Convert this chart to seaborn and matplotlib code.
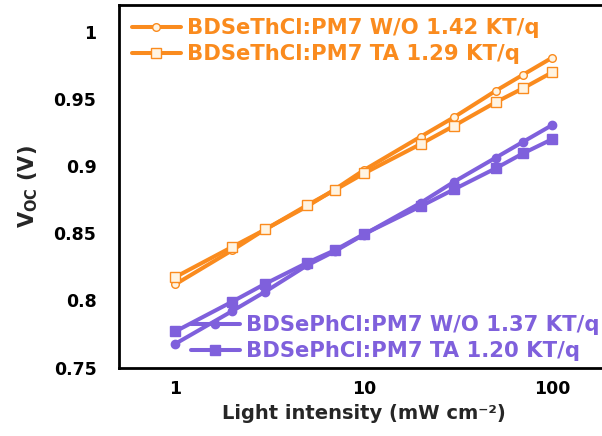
import matplotlib
matplotlib.use("Agg")
import matplotlib.pyplot as plt
from matplotlib.ticker import MultipleLocator, LogLocator, NullFormatter, FixedLocator, FixedFormatter
import seaborn as sns
import pandas as pd

# Light intensity (mW cm^-2)
intensity = [1, 2, 3, 5, 7, 10, 20, 30, 50, 70, 100]

# Open-circuit voltage (V) for each device
voc_thcl_wo = [0.812, 0.8373, 0.853, 0.870, 0.8826, 0.897, 0.9219, 0.9363, 0.956, 0.9681, 0.9808]
voc_thcl_ta = [0.8174, 0.8398, 0.8528, 0.8709, 0.8821, 0.8945, 0.9164, 0.9299, 0.9475, 0.958, 0.9699]
voc_phcl_wo = [0.7677, 0.792, 0.8065, 0.8261, 0.8365, 0.849, 0.8726, 0.8882, 0.9062, 0.9181, 0.9306]
voc_phcl_ta = [0.7769, 0.7990, 0.8124, 0.8280, 0.8373, 0.8493, 0.8700, 0.8826, 0.8983, 0.9095, 0.9201]

labels = [
    "BDSeThCl:PM7 W/O 1.42 KT/q",
    "BDSeThCl:PM7 TA 1.29 KT/q",
    "BDSePhCl:PM7 W/O 1.37 KT/q",
    "BDSePhCl:PM7 TA 1.20 KT/q",
]

ytick_vals = [0.75, 0.8, 0.85, 0.9, 0.95, 1.0]
ytick_text = ["0.75", "0.8", "0.85", "0.9", "0.95", "1"]
xtick_vals = [1, 10, 100]
xtick_text = ["1", "10", "100"]

orange = "#FA8B1E"
purple = "#7F60DC"
cream = "#FFF4E2"

sns.set_style("white")
plt.rcParams["font.family"] = ["DejaVu Sans"]
plt.rcParams["font.weight"] = "bold"

fig = plt.figure(figsize=(6.02, 4.36), dpi=100)
W, H = 602, 436
x0, x1 = 118.7, 609.0
y_top, y_bot = 5.0, 367.5
ax = fig.add_axes([x0 / W, (H - y_bot) / H, (x1 - x0) / W, (y_bot - y_top) / H])

series = [
    (voc_thcl_wo, orange, "o", cream, 5.5, labels[0]),
    (voc_thcl_ta, orange, "s", cream, 7.0, labels[1]),
    (voc_phcl_wo, purple, "o", purple, 6.0, labels[2]),
    (voc_phcl_ta, purple, "s", purple, 6.5, labels[3]),
]

lines = []
for vals, col, mk, fc, ms, lab in series:
    df = pd.DataFrame({"I": intensity, "V": vals})
    sns.lineplot(data=df, x="I", y="V", ax=ax, color=col, marker=mk,
                 markerfacecolor=fc, markeredgecolor=col, markersize=ms,
                 markeredgewidth=1.0, linewidth=2.9, label=lab, legend=False)
    lines.append(ax.get_lines()[-1])

ax.set_xscale("log")
ax.set_xlim(0.5, 200)
ax.set_ylim(0.75, 1.02)

ax.xaxis.set_major_locator(FixedLocator(xtick_vals))
ax.xaxis.set_major_formatter(FixedFormatter(xtick_text))
ax.xaxis.set_minor_locator(LogLocator(base=10, subs=range(2, 10), numticks=20))
ax.xaxis.set_minor_formatter(NullFormatter())
ax.yaxis.set_major_locator(FixedLocator(ytick_vals))
ax.yaxis.set_major_formatter(FixedFormatter(ytick_text))
ax.yaxis.set_minor_locator(MultipleLocator(0.025))

ax.tick_params(axis="both", which="both", direction="in", width=2, colors="black",
               labelsize=12.5, top=False, right=False)
ax.tick_params(axis="x", which="major", length=7, pad=9)
ax.tick_params(axis="x", which="minor", length=4)
ax.tick_params(axis="y", which="both", length=7, pad=16)

for side in ["left", "bottom", "top"]:
    ax.spines[side].set_visible(True)
    ax.spines[side].set_linewidth(2)
    ax.spines[side].set_color("black")
ax.spines["right"].set_visible(False)

ax.set_xlabel("Light intensity (mW cm\u207b\u00b2)", fontsize=14, fontweight="bold", labelpad=4)
ax.set_ylabel("V$_{\\mathbf{OC}}$ (V)", fontsize=15, fontweight="bold", labelpad=10)

leg_kw = dict(frameon=False, fontsize=15.2, handlelength=2.3, handletextpad=0.3,
              labelspacing=0.28, borderpad=0, borderaxespad=0, loc="upper left")
leg1 = fig.legend(handles=lines[:2], bbox_to_anchor=(132 / W, (H - 18) / H), **leg_kw)
for t in leg1.get_texts():
    t.set_color(orange)
    t.set_fontweight("bold")
leg2 = fig.legend(handles=lines[2:], bbox_to_anchor=(191 / W, (H - 315) / H), **leg_kw)
for t in leg2.get_texts():
    t.set_color(purple)
    t.set_fontweight("bold")

fig.savefig("out.png", dpi=100)
